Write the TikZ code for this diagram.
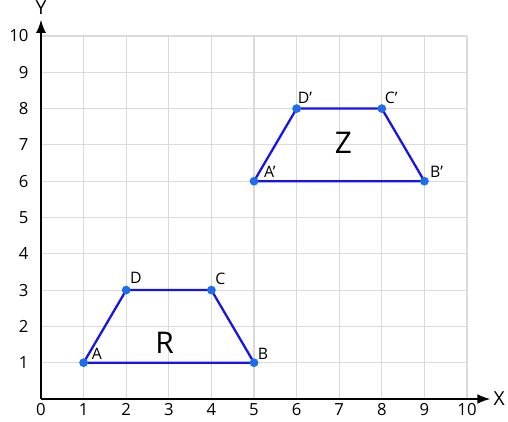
\documentclass[tikz,border=0pt]{standalone}
\usepackage{fontspec}
\setmainfont{Open Sans}
\usepackage{tikz}
\usetikzlibrary{arrows.meta,positioning}
\definecolor{gridgray}{RGB}{218,218,218}
\definecolor{edgeblue}{RGB}{20,20,235}
\definecolor{dotblue}{RGB}{30,110,235}
\tikzset{
  edge/.style={draw=edgeblue,line width=1.3pt},
  vtx/.style={circle,fill=dotblue,inner sep=0pt,minimum size=5pt},
  vlabel/.style={font=\fontsize{9}{10}\selectfont,inner sep=0pt,anchor=base west},
  ticklab/.style={font=\fontsize{9.5}{11}\selectfont,inner sep=1pt}
}
\begin{document}
\begin{tikzpicture}[x=0.852cm,y=0.726cm,>=Latex]
  \useasboundingbox (-0.82cm,-0.46cm) rectangle (9.34cm,7.98cm);
  % grid
  \foreach \i in {1,...,10} {
    \draw[gridgray,line width=0.6pt] (\i,0)--(\i,10);
    \draw[gridgray,line width=0.6pt] (0,\i)--(10,\i);
  }
  % axes
  \coordinate (O) at (0,0);
  \coordinate (xend) at (10.55,0);
  \coordinate (yend) at (0,10.45);
  \draw[->,line width=1pt] (O)--(xend) node[right=-2pt,font=\fontsize{11}{12}\selectfont] (xl) {X};
  \draw[->,line width=1pt] (O)--(yend) node[above=-1pt,font=\fontsize{11}{12}\selectfont] (yl) {Y};
  \foreach \i in {0,...,10}
    \node[ticklab,below=1.5pt] (xt\i) at (\i,0) {\i};
  \foreach \i in {1,...,10}
    \node[ticklab,left=6pt] (yt\i) at (0,\i) {\i};
  % trapezoid R
  \coordinate (A) at (1,1);
  \coordinate (B) at (5,1);
  \coordinate (C) at (4,3);
  \coordinate (D) at (2,3);
  \draw[edge] (A)--(B)--(C)--(D)--cycle;
  % trapezoid Z
  \coordinate (A') at (5,6);
  \coordinate (B') at (9,6);
  \coordinate (C') at (8,8);
  \coordinate (D') at (6,8);
  \draw[edge] (A')--(B')--(C')--(D')--cycle;
  \foreach \p in {A,B,C,D,A',B',C',D'}
    \node[vtx] at (\p) {};
  \node[vlabel,xshift=4.5pt,yshift=2pt] (lA) at (A) {A};
  \node[vlabel,xshift=2pt,yshift=2pt] (lB) at (B) {B};
  \node[vlabel,xshift=2pt,yshift=3pt] (lC) at (C) {C};
  \node[vlabel,xshift=2pt,yshift=3.5pt] (lD) at (D) {D};
  \node[vlabel,xshift=5.5pt,yshift=2pt] (lA') at (A') {A’};
  \node[vlabel,xshift=3pt,yshift=2pt] (lB') at (B') {B’};
  \node[vlabel,xshift=1.5pt,yshift=3pt] (lC') at (C') {C’};
  \node[vlabel,xshift=0.5pt,yshift=3pt] (lD') at (D') {D’};
  \node[font=\fontsize{17}{20}\selectfont] (Z) at (7.1,7.05) {Z};
  \node[font=\fontsize{17}{20}\selectfont] (R) at (2.9,1.55) {R};
\end{tikzpicture}
\end{document}
